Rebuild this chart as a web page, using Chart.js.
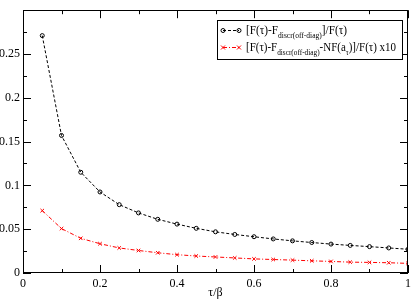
<!DOCTYPE html>
<html>
<head>
<meta charset="utf-8">
<script src="https://cdn.jsdelivr.net/npm/chart.js@4/dist/chart.umd.min.js"></script>
<style>
html,body{margin:0;padding:0;background:#fff;}
#wrap{width:415px;height:299px;}
</style>
</head>
<body>
<div id="wrap"><canvas id="c" width="415" height="299"></canvas></div>
<script>
const tau = [0.05,0.1,0.15,0.2,0.25,0.3,0.35,0.4,0.45,0.5,0.55,0.6,0.65,0.7,0.75,0.8,0.85,0.9,0.95,1.0];
const ratioOffDiag = [0.271,0.157,0.115,0.0925,0.078,0.0686,0.0613,0.0558,0.051,0.047,0.044,0.0414,0.0389,0.0367,0.0348,0.033,0.0315,0.0301,0.0286,0.0271];
const ratioNFx10 = [0.0712,0.0507,0.0396,0.0334,0.0286,0.0257,0.0231,0.0209,0.0194,0.0183,0.0172,0.0161,0.0154,0.0147,0.0139,0.0132,0.0124,0.0121,0.0117,0.011];
const xTicks = [0,0.2,0.4,0.6,0.8,1];
const yTicks = [0,0.05,0.1,0.15,0.2,0.25];
const xLabel = 'τ/β';
const legendRows = [
  [{t:'[F(τ)-F'},{t:'discr(off-diag)',sub:true},{t:']/F(τ)'}],
  [{t:'[F(τ)-F'},{t:'discr(off-diag)',sub:true},{t:'-NF(a'},{t:'τ',sub:true},{t:')]/F(τ) x10'}]
];

const FONT = '"Liberation Serif","DejaVu Serif",serif';

const frameTicks = {
  id:'frameTicks',
  afterDraw(chart){
    const ctx = chart.ctx, a = chart.chartArea;
    const xs = chart.scales.x, ys = chart.scales.y;
    ctx.save();
    ctx.strokeStyle = '#000'; ctx.lineWidth = 1;
    ctx.strokeRect(Math.round(a.left)+0.5, Math.round(a.top)+0.5, Math.round(a.right-a.left)-1, Math.round(a.bottom-a.top)-1);
    ctx.beginPath();
    for (let v=0; v<=1.0001; v+=0.1){
      const major = Math.abs(Math.round(v*5)-v*5) < 1e-6;
      const L = major ? 8 : 4;
      const px = Math.round(xs.getPixelForValue(v))+0.5;
      ctx.moveTo(px, a.bottom); ctx.lineTo(px, a.bottom-L);
      ctx.moveTo(px, a.top); ctx.lineTo(px, a.top+L);
    }
    for (let v=0; v<=0.3001; v+=0.025){
      const major = Math.abs(Math.round(v*20)-v*20) < 1e-6;
      const L = major ? 8 : 4;
      const py = Math.round(ys.getPixelForValue(v))+0.5;
      ctx.moveTo(a.left, py); ctx.lineTo(a.left+L, py);
      ctx.moveTo(a.right, py); ctx.lineTo(a.right-L, py);
    }
    ctx.stroke();

    // axis title
    ctx.fillStyle = '#000';
    ctx.font = '12px '+FONT;
    ctx.textAlign = 'center'; ctx.textBaseline = 'alphabetic';
    ctx.fillText(xLabel, (a.left+a.right)/2, 296);

    // legend
    const bx = 217.5, by = 20.5, bw = 185, bh = 39;
    ctx.fillStyle = '#fff';
    ctx.fillRect(bx, by, bw, bh);
    ctx.strokeStyle = '#000';
    ctx.strokeRect(bx, by, bw, bh);
    const rowsY = [30, 47];
    const rowWidths = [101, 150];
    const ds = chart.data.datasets;
    rowsY.forEach((yy, i) => {
      const d = ds[i];
      ctx.save();
      ctx.strokeStyle = d.borderColor; ctx.lineWidth = 1;
      ctx.setLineDash(d.borderDash);
      ctx.beginPath(); ctx.moveTo(223, yy+0.5); ctx.lineTo(239, yy+0.5); ctx.stroke();
      ctx.setLineDash([]);
      [223, 239].forEach(px => {
        ctx.beginPath();
        if (i === 0){ ctx.arc(px, yy+0.5, 2, 0, Math.PI*2); }
        else { ctx.moveTo(px-2, yy-1.5); ctx.lineTo(px+2, yy+2.5); ctx.moveTo(px+2, yy-1.5); ctx.lineTo(px-2, yy+2.5); }
        ctx.stroke();
      });
      ctx.restore();
      // measure natural width
      let natural = 0;
      legendRows[i].forEach(seg => {
        ctx.font = (seg.sub ? '8px ' : '12px ') + FONT;
        natural += ctx.measureText(seg.t).width;
      });
      const k = rowWidths[i] / natural;
      ctx.save();
      ctx.translate(246, 0);
      ctx.scale(k, 1);
      let x = 0;
      ctx.fillStyle = '#000'; ctx.textAlign = 'left'; ctx.textBaseline = 'alphabetic';
      legendRows[i].forEach(seg => {
        ctx.font = (seg.sub ? '8px ' : '12px ') + FONT;
        const yb = yy + 4 + (seg.sub ? 3.5 : 0);
        ctx.fillText(seg.t, x, yb);
        x += ctx.measureText(seg.t).width;
      });
      ctx.restore();
    });
    ctx.restore();
  }
};

new Chart(document.getElementById('c'), {
  type: 'line',
  data: {
    datasets: [
      {
        label: '[F(τ)-F_discr(off-diag)]/F(τ)',
        data: tau.map((t,i)=>({x:t, y:ratioOffDiag[i]})),
        borderColor: '#000', backgroundColor: 'rgba(0,0,0,0)',
        borderWidth: 1, borderDash: [3,2],
        pointStyle: 'circle', pointRadius: 2, pointBorderWidth: 1,
        pointBorderColor: '#000', pointBackgroundColor: 'rgba(0,0,0,0)',
        tension: 0
      },
      {
        label: '[F(τ)-F_discr(off-diag)-NF(a_τ)]/F(τ) x10',
        data: tau.map((t,i)=>({x:t, y:ratioNFx10[i]})),
        borderColor: '#ff0000', backgroundColor: 'rgba(0,0,0,0)',
        borderWidth: 1, borderDash: [4,2,1,2],
        pointStyle: 'crossRot', pointRadius: 2.5, pointBorderWidth: 1,
        pointBorderColor: '#ff0000', pointBackgroundColor: '#ff0000',
        tension: 0
      }
    ]
  },
  options: {
    responsive: false,
    animation: false,
    devicePixelRatio: 1,
    layout: { padding: { top: 1, right: 3, left: 0, bottom: 0 } },
    plugins: { legend: { display: false }, tooltip: { enabled: false } },
    scales: {
      x: {
        type: 'linear', min: 0, max: 1,
        afterFit(s){ s.height = 26; },
        afterBuildTicks(s){ s.ticks = xTicks.map(v=>({value:v})); },
        grid: { display: false, drawTicks: false },
        border: { display: false },
        ticks: { color: '#000', font: { family: FONT, size: 12 }, padding: 4, maxRotation: 0,
                 callback: v => String(v) }
      },
      y: {
        type: 'linear', min: 0, max: 0.3,
        afterFit(s){ s.width = 23; },
        afterBuildTicks(s){ s.ticks = yTicks.map(v=>({value:v})); },
        grid: { display: false, drawTicks: false },
        border: { display: false },
        ticks: { color: '#000', font: { family: FONT, size: 12 }, padding: 3,
                 callback: v => String(v) }
      }
    }
  },
  plugins: [frameTicks]
});
</script>
</body>
</html>
